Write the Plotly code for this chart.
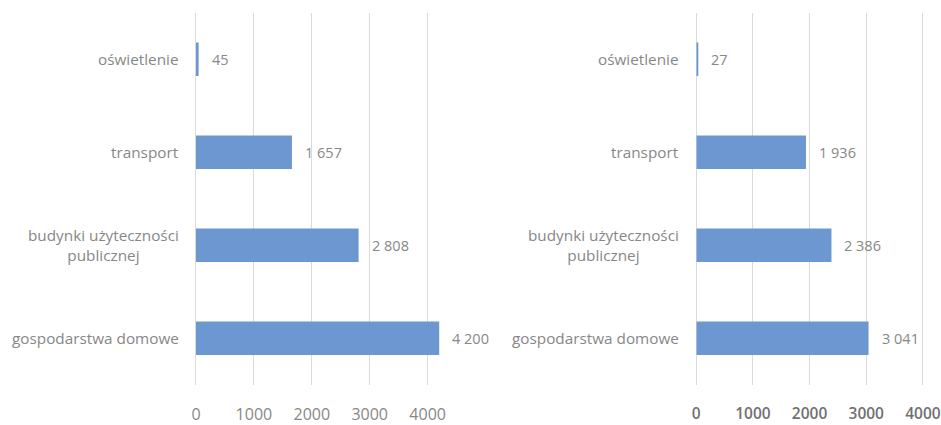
import plotly.graph_objects as go

categories = ["oświetlenie", "transport", "budynki użyteczności<br>publicznej", "gospodarstwa domowe"]
values_left = [45, 1657, 2808, 4200]
values_right = [27, 1936, 2386, 3041]
tick_values = [0, 1000, 2000, 3000, 4000]
tick_labels = ["0", "1000", "2000", "3000", "4000"]

BAR = "#6C97D0"
GRID = "#DADADA"
TEXT = "#878787"
FONT = "Open Sans"


def fmt(v):
    return f"{v:,}".replace(",", " ")


fig = go.Figure()

for vals, xa, ya in [(values_left, "x", "y"), (values_right, "x2", "y2")]:
    fig.add_trace(go.Bar(
        x=vals, y=categories, orientation="h",
        marker=dict(color=BAR, line=dict(width=0)),
        xaxis=xa, yaxis=ya, hoverinfo="skip", showlegend=False,
    ))

annotations = []
for vals, xa, ya in [(values_left, "x", "y"), (values_right, "x2", "y2")]:
    for cat, v in zip(categories, vals):
        # value label to the right of each bar
        annotations.append(dict(
            x=v, y=cat, xref=xa, yref=ya, text=fmt(v), showarrow=False,
            xanchor="left", xshift=11, font=dict(family=FONT, size=14.5, color=TEXT),
        ))
        # category label to the left of the axis, lines centred
        annotations.append(dict(
            x=0, y=cat, xref=xa, yref=ya, text=cat, showarrow=False,
            xanchor="right", xshift=-15, align="center",
            font=dict(family=FONT, size=15.3, color=TEXT),
        ))

ydom = [30 / 425, 412 / 425]
yaxis_common = dict(
    categoryorder="array", categoryarray=categories, autorange="reversed",
    showticklabels=False, showgrid=False, zeroline=False, showline=False,
    domain=ydom, fixedrange=True,
)
xaxis_common = dict(
    tickmode="array", tickvals=tick_values, ticktext=tick_labels,
    showgrid=True, gridcolor=GRID, gridwidth=1,
    zeroline=True, zerolinecolor=GRID, zerolinewidth=1, showline=False,
    ticks="outside", ticklen=15, tickcolor="rgba(0,0,0,0)",
)

fig.update_layout(
    width=941, height=425,
    margin=dict(l=0, r=0, t=0, b=0),
    paper_bgcolor="white", plot_bgcolor="white",
    bargap=0.64,
    xaxis=dict(**xaxis_common, range=[0, 4500], domain=[192 / 941, 454 / 941],
               tickfont=dict(family=FONT, size=16, color=TEXT)),
    xaxis2=dict(**xaxis_common, range=[0, 4320], domain=[695 / 941, 941 / 941],
                tickfont=dict(family=FONT, size=15.5, color="#707070", weight=600)),
    yaxis=dict(**yaxis_common, anchor="x"),
    yaxis2=dict(**yaxis_common, anchor="x2"),
    annotations=annotations,
)

fig.write_html("out.html")
